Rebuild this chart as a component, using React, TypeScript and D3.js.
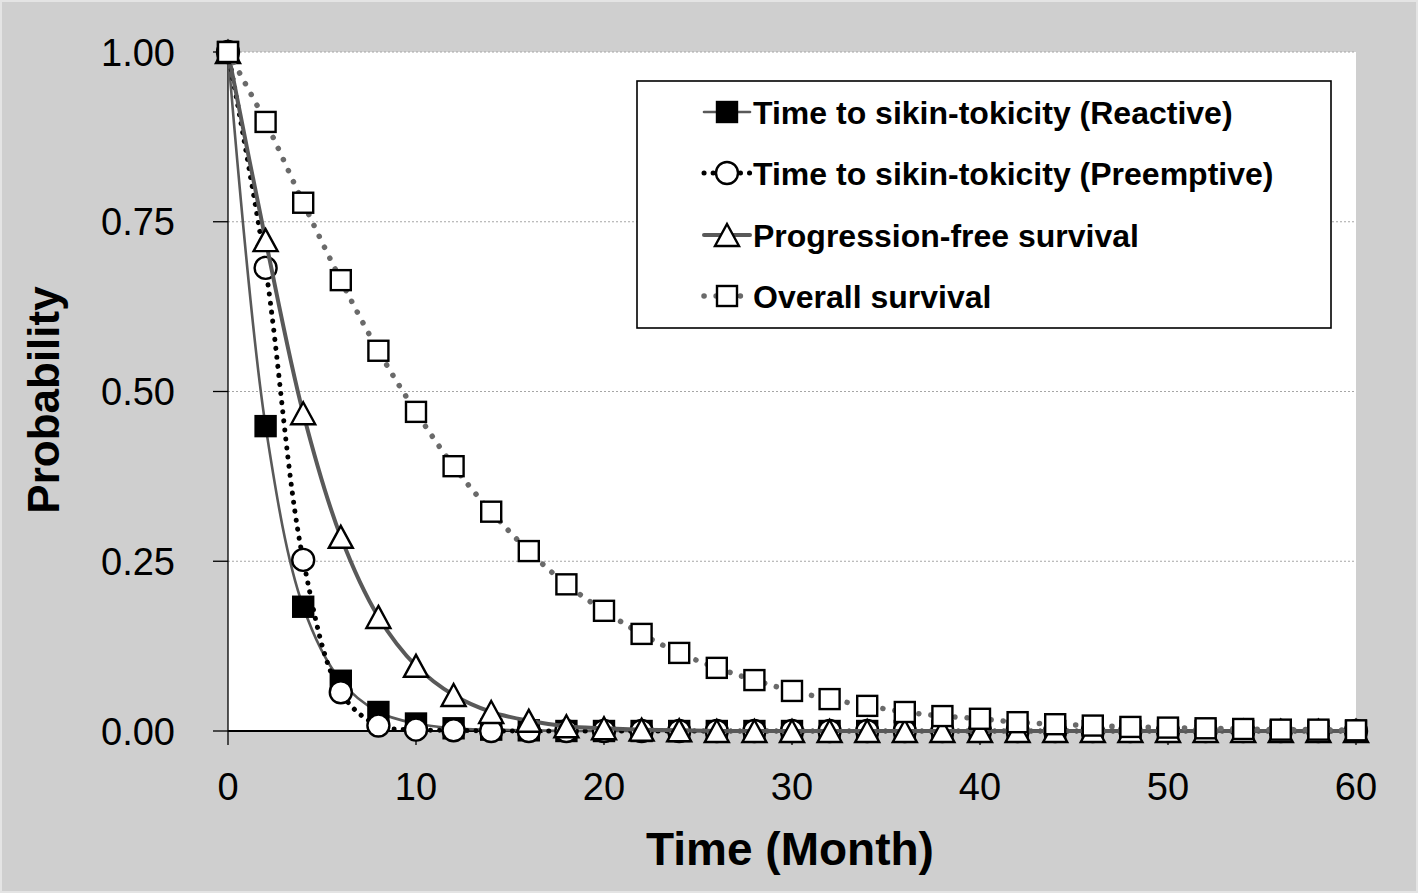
import React from "react";
import * as d3 from "d3";

const months = [0, 2, 4, 6, 8, 10, 12, 14, 16, 18, 20, 22, 24, 26, 28, 30, 32, 34, 36, 38, 40, 42, 44, 46, 48, 50, 52, 54, 56, 58, 60];
const reactive = [1, 0.449, 0.183, 0.074, 0.028, 0.011, 0.004, 0.002, 0.001, 0, 0, 0, 0, 0, 0, 0, 0, 0, 0, 0, 0, 0, 0, 0, 0, 0, 0, 0, 0, 0, 0];
const preemptive = [1, 0.682, 0.252, 0.057, 0.008, 0.002, 0.001, 0, 0, 0, 0, 0, 0, 0, 0, 0, 0, 0, 0, 0, 0, 0, 0, 0, 0, 0, 0, 0, 0, 0, 0];
const pfs = [1, 0.723, 0.468, 0.286, 0.168, 0.096, 0.053, 0.028, 0.015, 0.007, 0.004, 0.002, 0.001, 0, 0, 0, 0, 0, 0, 0, 0, 0, 0, 0, 0, 0, 0, 0, 0, 0, 0];
const os = [1, 0.897, 0.778, 0.664, 0.56, 0.47, 0.39, 0.323, 0.265, 0.216, 0.177, 0.143, 0.115, 0.093, 0.075, 0.059, 0.047, 0.037, 0.028, 0.022, 0.018, 0.013, 0.01, 0.008, 0.006, 0.005, 0.004, 0.003, 0.002, 0.002, 0.001];
const seriesNames = [
  "Time to sikin-tokicity (Reactive)",
  "Time to sikin-tokicity (Preemptive)",
  "Progression-free survival",
  "Overall survival",
];
const xTicks = [0, 10, 20, 30, 40, 50, 60];
const yTicks = [0, 0.25, 0.5, 0.75, 1.0];
const xTitle = "Time (Month)";
const yTitle = "Probability";

const W = 1418;
const H = 893;
const L = 228, R = 1356, T = 52, B = 731;
const GRAY = "#595959";
const FONT = "'Liberation Sans', Arial, sans-serif";

type Style = {
  values: number[];
  marker: "fsquare" | "circle" | "triangle" | "square";
  stroke: string;
  width: number;
  dash?: string;
};

const styles: Style[] = [
  { values: reactive, marker: "fsquare", stroke: GRAY, width: 2.6 },
  { values: preemptive, marker: "circle", stroke: "#000", width: 5, dash: "0.1,9" },
  { values: pfs, marker: "triangle", stroke: GRAY, width: 4 },
  { values: os, marker: "square", stroke: "#6a6a6a", width: 5.5, dash: "0.1,12" },
];

function Marker({ kind, x, y }: { kind: string; x: number; y: number }) {
  const sw = 2.4;
  if (kind === "fsquare")
    return <rect x={x - 10} y={y - 10} width={20} height={20} fill="#000" stroke="#000" strokeWidth={sw} />;
  if (kind === "square")
    return <rect x={x - 10} y={y - 10} width={20} height={20} fill="#fff" stroke="#000" strokeWidth={sw} />;
  if (kind === "circle") return <circle cx={x} cy={y} r={11} fill="#fff" stroke="#000" strokeWidth={sw} />;
  return (
    <path
      d={`M${x},${y - 11}L${x + 12},${y + 11}L${x - 12},${y + 11}Z`}
      fill="#fff"
      stroke="#000"
      strokeWidth={sw}
      strokeLinejoin="miter"
    />
  );
}

export default function App() {
  const x = d3.scaleLinear().domain([0, 60]).range([L, R]);
  const y = d3.scaleLinear().domain([0, 1]).range([B, T]);
  const line = d3
    .line<[number, number]>()
    .x((d) => x(d[0]))
    .y((d) => y(d[1]))
    .curve(d3.curveCatmullRom.alpha(0.5));

  const legendX = 637, legendY = 81, legendW = 694, legendH = 247;
  const rowYs = [112, 173, 235, 296];

  return (
    <svg
      width={W}
      height={H}
      style={{ position: "absolute", left: 0, top: 0, display: "block" }}
      fontFamily={FONT}
    >
      <rect x={0} y={0} width={W} height={H} fill="#cfcfcf" />
      <rect x={1} y={1} width={W - 2} height={H - 2} fill="none" stroke="#e4e4e4" strokeWidth={2} />
      <rect x={L} y={T} width={R - L} height={B - T} fill="#fff" />
      {yTicks.map((t) => (
        <line key={"g" + t} x1={L} x2={R} y1={y(t)} y2={y(t)} stroke="#a6a6a6" strokeWidth={1} strokeDasharray="2,2" />
      ))}
      {/* y axis */}
      <line x1={L} x2={L} y1={T} y2={B} stroke="#000" strokeWidth={1.3} />
      {yTicks.map((t) => (
        <g key={"y" + t}>
          <line x1={L - 15} x2={L} y1={y(t)} y2={y(t)} stroke="#000" strokeWidth={1.3} />
          <text x={175} y={y(t)} dy="0.36em" textAnchor="end" fontSize={38} fill="#000">
            {d3.format(".2f")(t)}
          </text>
        </g>
      ))}
      {/* x axis */}
      <line x1={L} x2={R} y1={B} y2={B} stroke="#000" strokeWidth={2.2} />
      {xTicks.map((t) => (
        <g key={"x" + t}>
          <line x1={x(t)} x2={x(t)} y1={B} y2={B + 14} stroke="#000" strokeWidth={1.3} />
          <text x={x(t)} y={800} textAnchor="middle" fontSize={38} fill="#000">
            {t}
          </text>
        </g>
      ))}
      <text x={790} y={865} textAnchor="middle" fontSize={46} fontWeight="bold" fill="#000">
        {xTitle}
      </text>
      <text
        transform={`translate(59,400) rotate(-90)`}
        textAnchor="middle"
        fontSize={44}
        fontWeight="bold"
        fill="#000"
      >
        {yTitle}
      </text>

      {styles.map((s, i) => {
        const pts: [number, number][] = months.map((m, j) => [m, s.values[j]]);
        return (
          <g key={"s" + i}>
            <path
              d={line(pts) || ""}
              fill="none"
              stroke={s.stroke}
              strokeWidth={s.width}
              strokeDasharray={s.dash}
              strokeLinecap="round"
            />
            {pts.map((p, j) => (
              <Marker key={j} kind={s.marker} x={x(p[0])} y={y(p[1])} />
            ))}
          </g>
        );
      })}

      {/* legend */}
      <rect x={legendX} y={legendY} width={legendW} height={legendH} fill="#fff" stroke="#000" strokeWidth={1.6} />
      {styles.map((s, i) => (
        <g key={"l" + i}>
          <line
            x1={704}
            x2={750}
            y1={rowYs[i]}
            y2={rowYs[i]}
            stroke={s.stroke}
            strokeWidth={s.width}
            strokeDasharray={s.dash}
            strokeLinecap="round"
          />
          <Marker kind={s.marker} x={727} y={rowYs[i]} />
          <text x={753} y={rowYs[i]} dy="0.36em" fontSize={32} fontWeight="bold" fill="#000">
            {seriesNames[i]}
          </text>
        </g>
      ))}
    </svg>
  );
}
